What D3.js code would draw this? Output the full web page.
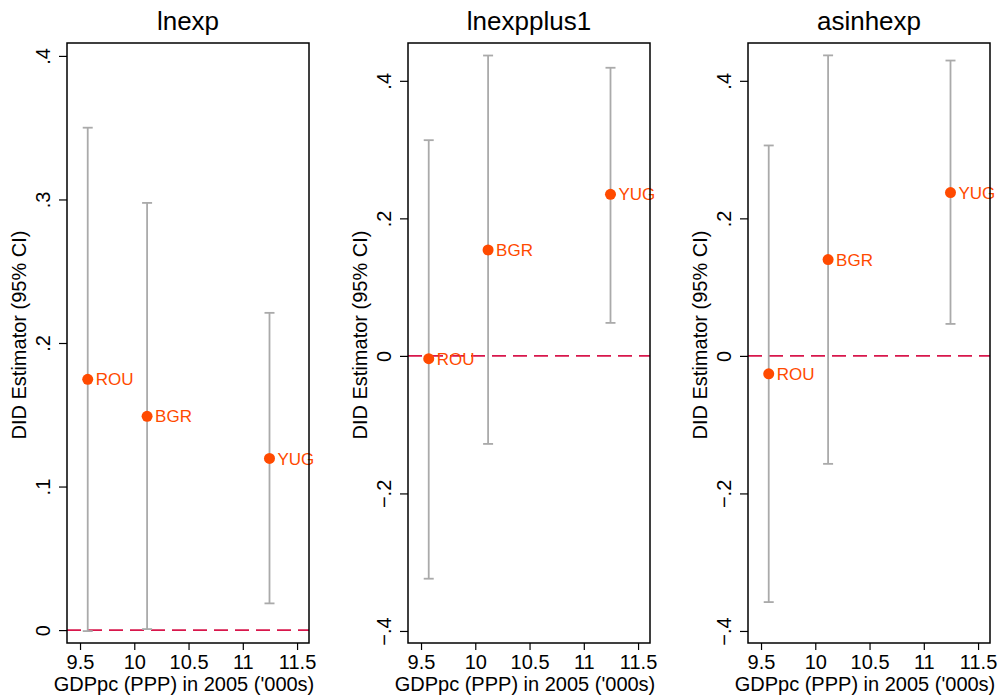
<!DOCTYPE html>
<html>
<head>
<meta charset="utf-8">
<script src="https://cdn.jsdelivr.net/npm/d3@7"></script>
<style>
  body { margin: 0; background: #fff; }
  svg { font-family: "Liberation Sans", Arial, sans-serif; }
</style>
</head>
<body>
<svg id="chart" width="1003" height="700"></svg>
<script>
const width = 1003, height = 700;
const svg = d3.select("#chart");

// countries and their GDP per capita (x position)
const countries = ["ROU", "BGR", "YUG"];
const gdp = [9.571, 10.118, 11.246];

// panels: outcome names
const panelNames = ["lnexp", "lnexpplus1", "asinhexp"];

// DID estimates and 95% CI, one array per panel
const est = [
  [0.1747, 0.1489, 0.1196],
  [-0.004, 0.154, 0.235],
  [-0.026, 0.140, 0.2375]
];
const ciLow = [
  [-0.0007, 0.0007, 0.0186],
  [-0.324, -0.128, 0.048],
  [-0.358, -0.157, 0.0465]
];
const ciHigh = [
  [0.350, 0.2976, 0.221],
  [0.3137, 0.4368, 0.419],
  [0.306, 0.437, 0.4295]
];

// axis ticks and domains
const yTicks = [
  [0, 0.1, 0.2, 0.3, 0.4],
  [-0.4, -0.2, 0, 0.2, 0.4],
  [-0.4, -0.2, 0, 0.2, 0.4]
];
const yDomains = [[-0.009, 0.409], [-0.4175, 0.455], [-0.4175, 0.455]];
const xTicks = [9.5, 10, 10.5, 11, 11.5];
const xDomain = [9.38, 11.61];

const colors = { point: "#ff4a00", ci: "#aaaaaa", zero: "#d8174c", axis: "#000" };

const boxLeft = [67, 408, 748];
const boxW = 242, boxTop = 43, boxBottom = 643;

const fmt = d => d === 0 ? "0" : (d < 0 ? "\u2212" : "") + String(Math.abs(d)).replace(/^0/, "");

panelNames.forEach((name, p) => {
  const x = d3.scaleLinear().domain(xDomain).range([boxLeft[p], boxLeft[p] + boxW]);
  const y = d3.scaleLinear().domain(yDomains[p]).range([boxBottom, boxTop]);
  const g = svg.append("g");

  // title
  g.append("text")
    .attr("x", boxLeft[p] + boxW / 2).attr("y", 30)
    .attr("text-anchor", "middle").attr("font-size", 26)
    .text(name);

  // zero line
  g.append("line")
    .attr("x1", boxLeft[p]).attr("x2", boxLeft[p] + boxW)
    .attr("y1", y(0)).attr("y2", y(0))
    .attr("stroke", colors.zero).attr("stroke-width", 1.6)
    .attr("stroke-dasharray", "14,7");

  // confidence intervals
  countries.forEach((c, i) => {
    const cx = x(gdp[i]);
    g.append("line")
      .attr("x1", cx).attr("x2", cx)
      .attr("y1", y(ciLow[p][i])).attr("y2", y(ciHigh[p][i]))
      .attr("stroke", colors.ci).attr("stroke-width", 1.8);
    [ciLow[p][i], ciHigh[p][i]].forEach(v => {
      g.append("line")
        .attr("x1", cx - 5).attr("x2", cx + 5)
        .attr("y1", y(v)).attr("y2", y(v))
        .attr("stroke", colors.ci).attr("stroke-width", 1.8);
    });
  });

  // points and labels
  countries.forEach((c, i) => {
    g.append("circle")
      .attr("cx", x(gdp[i])).attr("cy", y(est[p][i])).attr("r", 5.5)
      .attr("fill", colors.point);
    g.append("text")
      .attr("x", x(gdp[i]) + 8).attr("y", y(est[p][i]))
      .attr("dy", "0.36em").attr("font-size", 17)
      .attr("fill", colors.point)
      .text(c);
  });

  // plot box
  g.append("rect")
    .attr("x", boxLeft[p]).attr("y", boxTop)
    .attr("width", boxW).attr("height", boxBottom - boxTop)
    .attr("fill", "none").attr("stroke", colors.axis).attr("stroke-width", 1.5);

  // y axis
  const ya = g.append("g")
    .attr("transform", `translate(${boxLeft[p]},0)`)
    .call(d3.axisLeft(y).tickValues(yTicks[p]).tickSize(8).tickFormat(fmt));
  ya.select(".domain").remove();
  ya.selectAll("line").attr("stroke-width", 1.2);
  ya.selectAll("text")
    .attr("font-size", 20).attr("font-family", "Liberation Sans, Arial, sans-serif")
    .attr("fill", "#000")
    .attr("text-anchor", "middle")
    .attr("x", null).attr("dy", null)
    .attr("transform", "translate(-17,0) rotate(-90)")
    .attr("y", 0);

  // x axis
  const xa = g.append("g")
    .attr("transform", `translate(0,${boxBottom})`)
    .call(d3.axisBottom(x).tickValues(xTicks).tickSize(7).tickFormat(d3.format("")));
  xa.select(".domain").remove();
  xa.selectAll("line").attr("stroke-width", 1.2);
  xa.selectAll("text")
    .attr("font-size", 20).attr("font-family", "Liberation Sans, Arial, sans-serif")
    .attr("fill", "#000").attr("y", 12);

  // axis titles
  g.append("text")
    .attr("x", boxLeft[p] + boxW / 2 - 4).attr("y", 691)
    .attr("text-anchor", "middle").attr("font-size", 20)
    .text("GDPpc (PPP) in 2005 ('000s)");
  g.append("text")
    .attr("transform", `translate(${boxLeft[p] - 41},335) rotate(-90)`)
    .attr("text-anchor", "middle").attr("font-size", 20)
    .text("DID Estimator (95% CI)");
});
</script>
</body>
</html>
